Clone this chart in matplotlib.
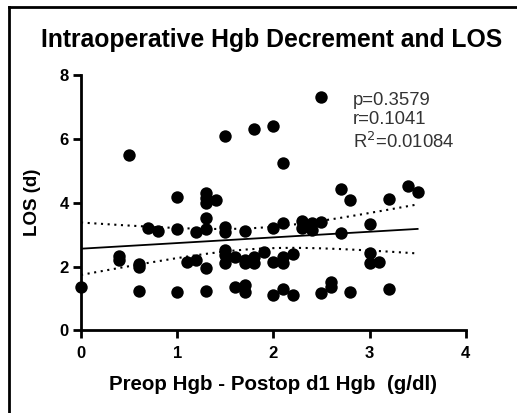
import numpy as np
import matplotlib
matplotlib.use("Agg")
import matplotlib.pyplot as plt
from matplotlib.lines import Line2D

plt.rcParams['font.family'] = ['Liberation Sans', 'DejaVu Sans']

hgb_drop = [0.0, 0.4, 0.4, 0.5, 0.6, 0.6, 0.6, 0.7, 0.8, 1.0, 1.0, 1.0, 1.1, 1.2, 1.2,
            1.3, 1.3, 1.3, 1.4, 1.3, 1.3, 1.3, 1.3, 1.5, 1.5, 1.5, 1.5, 1.5, 1.5,
            1.6, 1.6, 1.7, 1.7, 1.7, 1.7, 1.7, 1.8, 1.8, 1.8, 1.9, 2.0, 2.0, 2.0, 2.0,
            2.1, 2.1, 2.1, 2.1, 2.1, 2.2, 2.2, 2.3, 2.3, 2.4, 2.4, 2.5, 2.5, 2.5,
            2.6, 2.6, 2.7, 2.7, 2.8, 2.8, 3.0, 3.0, 3.0, 3.1, 3.2, 3.2, 3.4, 3.5]
los_days = [1.37, 2.32, 2.22, 5.50, 2.08, 1.98, 1.24, 3.20, 3.12, 4.17, 3.18, 1.20, 2.16, 2.21, 3.08,
            4.32, 4.15, 4.00, 4.09, 3.52, 3.17, 1.95, 1.25, 6.10, 3.25, 3.07, 2.52, 2.35, 2.10,
            2.31, 1.37, 3.13, 2.21, 2.10, 1.43, 1.22, 6.31, 2.31, 2.12, 2.46, 6.39, 3.20, 2.14, 1.11,
            5.26, 3.35, 2.31, 2.12, 1.30, 2.38, 1.11, 3.44, 3.20, 3.38, 3.16, 3.40, 7.30, 1.17,
            1.52, 1.37, 4.44, 3.05, 4.10, 1.20, 3.34, 2.43, 2.12, 2.16, 4.13, 1.29, 4.51, 4.34]

stats_lines = ["p=0.3579", "r=0.1041", "R$^2$=0.01084"]
x_ticks = [0, 1, 2, 3, 4]
y_ticks = [0, 2, 4, 6, 8]

x = np.array(hgb_drop)
y = np.array(los_days)

fig = plt.figure(figsize=(5.17, 4.13), dpi=100)
ax = fig.add_axes([0.1567, 0.1998, 0.7441, 0.6186])

ax.scatter(x, y, s=80, color='black', zorder=3, clip_on=False, linewidths=0)

# linear regression and 95% confidence band
n = len(x)
slope, intercept = np.polyfit(x, y, 1)
xf = np.linspace(x.min(), x.max(), 200)
yf = intercept + slope * xf
resid = y - (intercept + slope * x)
s_err = np.sqrt(np.sum(resid ** 2) / (n - 2))
t_val = 1.994
sxx = np.sum((x - x.mean()) ** 2)
ci = t_val * s_err * np.sqrt(1.0 / n + (xf - x.mean()) ** 2 / sxx)
ax.plot(xf, yf, color='black', lw=1.3, zorder=2)
ax.plot(xf, yf + ci, color='black', lw=1.5, ls=(0, (1, 2.2)), zorder=2)
ax.plot(xf, yf - ci, color='black', lw=1.5, ls=(0, (1, 2.2)), zorder=2)

ax.set_xlim(0, 4)
ax.set_ylim(0, 8)
ax.set_xticks(x_ticks)
ax.set_yticks(y_ticks)
for s in ['top', 'right']:
    ax.spines[s].set_visible(False)
for s in ['left', 'bottom']:
    ax.spines[s].set_linewidth(2)
ax.tick_params(direction='out', length=6, width=2, labelsize=12, pad=3)
ax.tick_params(axis='x', pad=5)
for lbl in ax.get_xticklabels() + ax.get_yticklabels():
    lbl.set_fontweight('bold')

ax.set_xlabel("Preop Hgb - Postop d1 Hgb  (g/dl)", fontsize=14.8, fontweight='bold', labelpad=10)
ax.set_ylabel("LOS (d)", fontsize=13.5, fontweight='bold', labelpad=13)
fig.text(0.525, 0.903, "Intraoperative Hgb Decrement and LOS", ha='center', va='center',
         fontsize=17.8, fontweight='bold')

ax.text(0.707, 0.935, "\n".join(stats_lines), transform=ax.transAxes, ha='left', va='top',
        fontsize=13.3, color='#333333', linespacing=1.2)

# outer frame (left and top)
fig.add_artist(Line2D([9/517, 9/517], [0, 1 - 7/413], transform=fig.transFigure, color='black', lw=2))
fig.add_artist(Line2D([9/517, 1], [1 - 7/413, 1 - 7/413], transform=fig.transFigure, color='black', lw=2))

fig.savefig("out.png", dpi=100)
